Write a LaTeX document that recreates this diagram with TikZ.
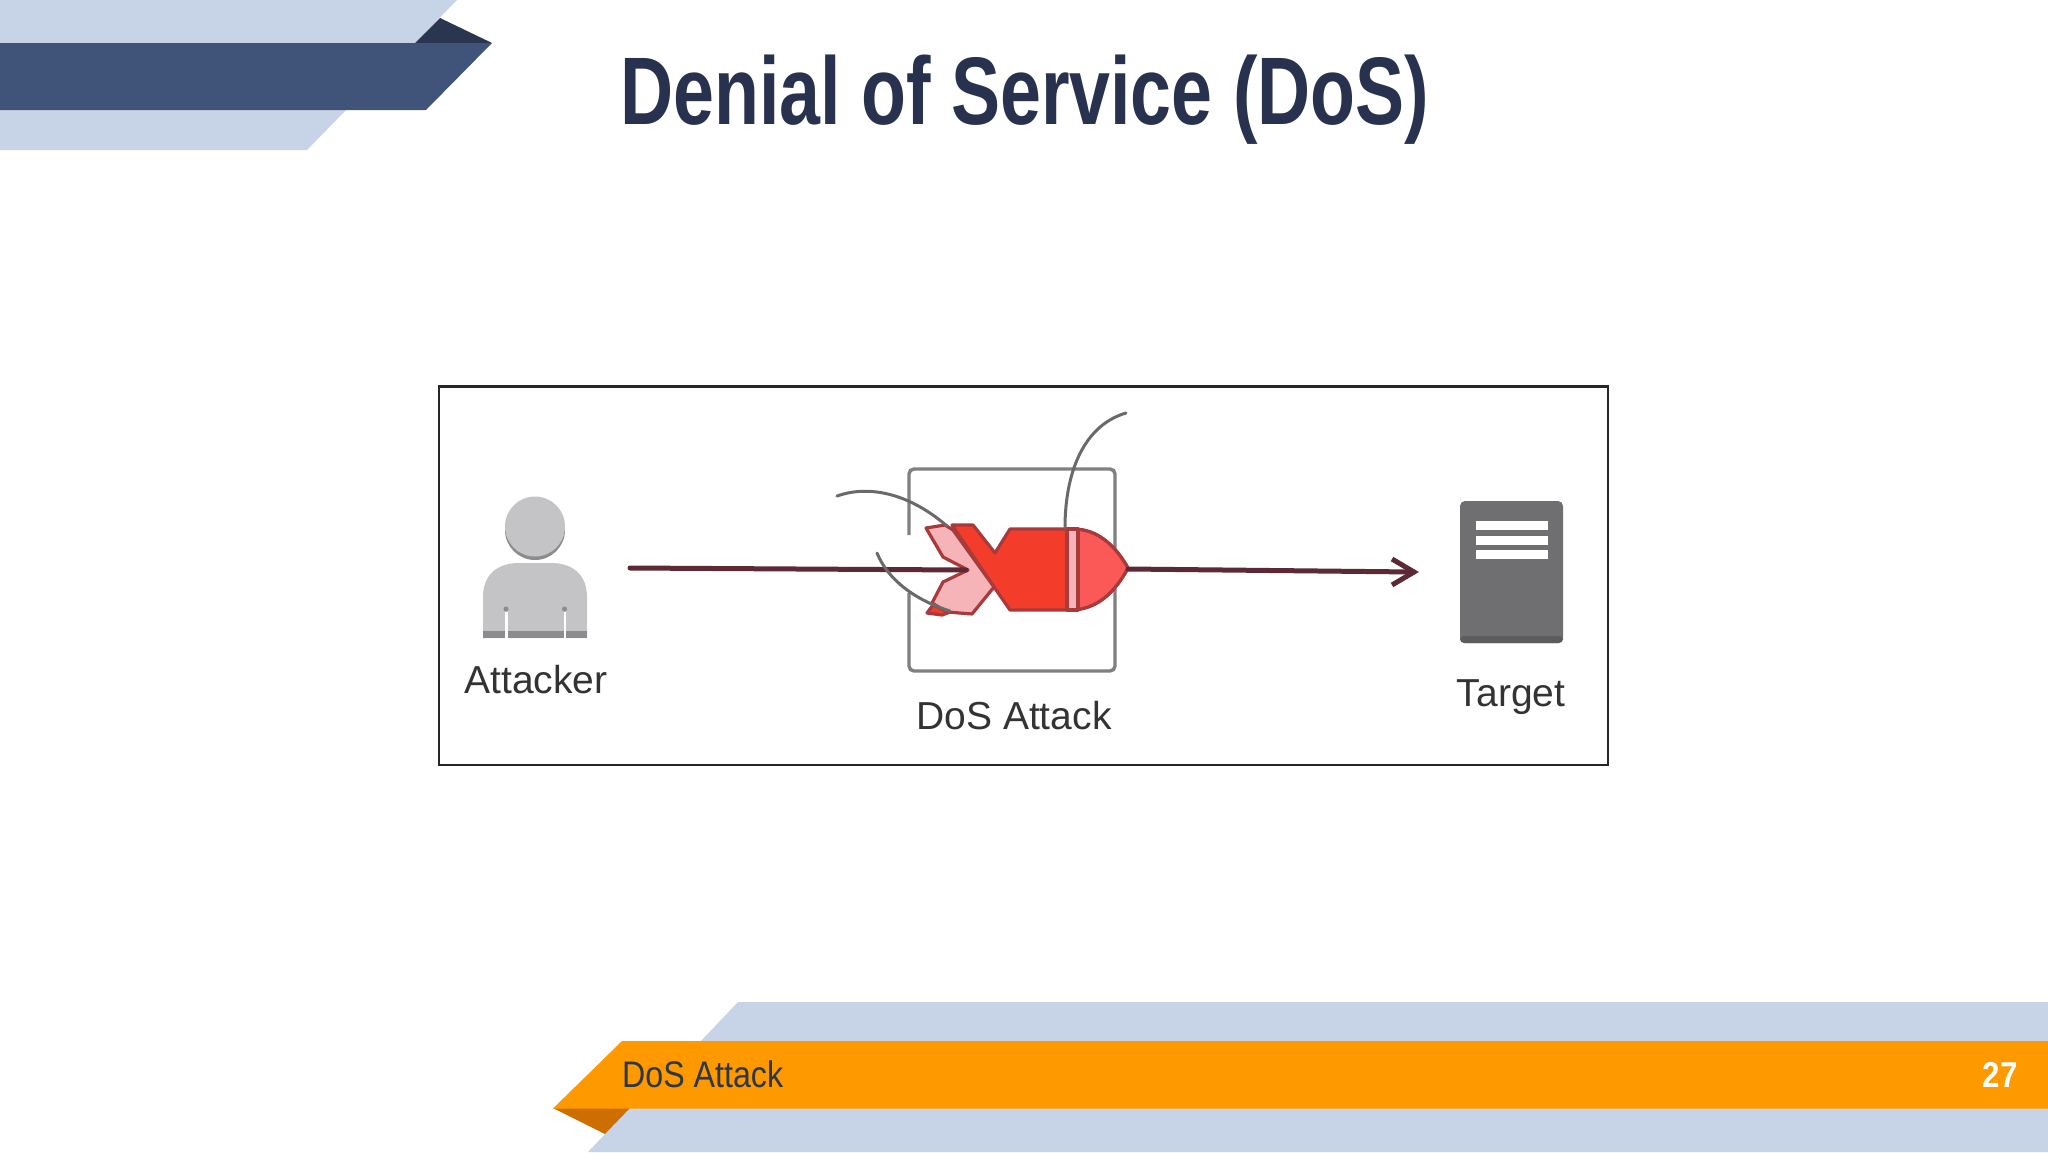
\documentclass[tikz,border=0pt]{standalone}
\usepackage{fontspec}
\setmainfont{Liberation Sans}
\newfontfamily\condB{Liberation Sans}[FakeStretch=0.766]
\newfontfamily\condR{Liberation Sans}[FakeStretch=0.87]
\usetikzlibrary{arrows.meta}
\definecolor{lightband}{HTML}{C7D3E6}
\definecolor{navy}{HTML}{405378}
\definecolor{darknavy}{HTML}{2A3550}
\definecolor{orangeband}{HTML}{FF9900}
\definecolor{darkorange}{HTML}{CC6E00}
\definecolor{titlecol}{HTML}{28324E}
\definecolor{footcol}{HTML}{2D3748}
\definecolor{labelcol}{HTML}{333333}
\definecolor{boxgrey}{HTML}{808080}
\definecolor{wire}{HTML}{6A6A6A}
\definecolor{bombedge}{HTML}{A93A3C}
\definecolor{bombred}{HTML}{F43C2B}
\definecolor{bombnose}{HTML}{FB5858}
\definecolor{bombpale}{HTML}{F6B3B8}
\definecolor{maroon}{HTML}{5C2A36}
\definecolor{personlight}{HTML}{C4C4C6}
\definecolor{persondark}{HTML}{8C8C8E}
\definecolor{servergrey}{HTML}{6F6F71}
\definecolor{serverdark}{HTML}{5C5C5E}
\tikzset{
  band/.style={fill=lightband,draw=none},
  diagramlabel/.style={font=\fontsize{39}{39}\selectfont,text=labelcol,inner sep=0pt},
  flow/.style={draw=maroon,line width=5pt,line cap=round},
  wirecurve/.style={draw=wire,line width=3pt,line cap=round},
  bombpart/.style={draw=bombedge,line width=3.2pt,line join=round},
}
\begin{document}
\begin{tikzpicture}[x=1pt,y=-1pt]
\useasboundingbox (0,0) rectangle (2048,1152);
\fill[white] (0,0) rectangle (2048,1152);
% header ribbon
\fill[band] (0,0) -- (457,0) -- (414,44) -- (0,44) -- cycle;
\fill[darknavy] (415,43) -- (440,18) -- (492,43) -- cycle;
\fill[band] (0,110) -- (346,110) -- (307,150) -- (0,150) -- cycle;
\fill[navy] (0,43) -- (492,43) -- (426,110) -- (0,110) -- cycle;
\node[anchor=base west,inner sep=0pt,text=titlecol,font=\fontsize{96}{96}\selectfont\condB\bfseries] (title) at (620,124) {Denial of Service (DoS)};
% footer ribbon
\fill[band] (738,1002) -- (2048,1002) -- (2048,1042) -- (700,1042) -- cycle;
\fill[band] (630,1108) -- (2048,1108) -- (2048,1152) -- (588,1152) -- cycle;
\fill[darkorange] (553,1108) -- (630,1108) -- (605,1134) -- cycle;
\fill[orangeband] (622,1041) -- (2048,1041) -- (2048,1108.5) -- (553,1108.5) -- cycle;
\node[anchor=base west,inner sep=0pt,text=footcol,font=\fontsize{37}{37}\selectfont\condR] (foot) at (622,1087) {DoS Attack};
\node[anchor=base east,inner sep=0pt,text=white,font=\fontsize{36}{36}\selectfont\condR\bfseries] (page) at (2018,1087) {27};
% frame
\draw[draw=black!85,line width=2.4pt] (439,386.5) rectangle (1608,765);
% attack box with gap on its left side
\draw[boxgrey,line width=3.4pt,rounded corners=5pt] (909,535) -- (909,469) -- (1115,469) -- (1115,671) -- (909,671) -- (909,593);
% attacker
\node[circle,fill=persondark,minimum size=60pt,inner sep=0pt] (headshade) at (535,530) {};
\node[circle,fill=personlight,minimum size=60pt,inner sep=0pt] (head) at (535,526.5) {};
\fill[personlight] (483,638) -- (483,597) .. controls (483,575) and (497,563) .. (519,563) -- (551,563) .. controls (573,563) and (587,575) .. (587,597) -- (587,638) -- cycle;
\fill[persondark] (483,631) rectangle (587,638);
\fill[white] (505,612) rectangle (507.5,638);
\fill[white] (563.5,612) rectangle (566,638);
\fill[persondark] (506,609) circle (2.5);
\fill[persondark] (564.5,609) circle (2.5);
\coordinate (attacker) at (630,568);
\node[diagramlabel] (attackerlabel) at (536,680) {Attacker};
% target server
\fill[servergrey,rounded corners=5pt] (1460,501) rectangle (1563,643);
\fill[serverdark,rounded corners=4pt] (1460,636) rectangle (1563,643);
\fill[white] (1476,521) rectangle (1548,530);
\fill[white] (1476,536) rectangle (1548,545);
\fill[white] (1476,550) rectangle (1548,559);
\coordinate (target) at (1414,572);
\node[diagramlabel] (targetlabel) at (1511,697) {Target};
\node[diagramlabel] (doslabel) at (1014,716) {DoS Attack};
% bomb
\coordinate (bombtail) at (966,570);
\coordinate (bombtip) at (1128,569);
\path[bombpart,fill=bombred] (927,613) -- (933,605) -- (950,612) -- (942,615) -- cycle;
\path[bombpart,fill=bombred] (952,525) -- (973,525) -- (995,553) -- (1010,529) -- (1073,529) .. controls (1097,529) and (1115,545) .. (1128,568) .. controls (1115,592) and (1097,610) .. (1070,610) -- (1010,610) -- (994,587) -- cycle;
\path[draw=none,fill=bombnose] (1078,530) .. controls (1098,531) and (1115,545) .. (1127,568) .. controls (1115,592) and (1098,608) .. (1078,609) -- cycle;
\path[bombpart,fill=bombpale] (1067,529) -- (1078,529) -- (1078,610) -- (1067,610) -- cycle;
\path[bombpart] (1073,529) .. controls (1097,529) and (1115,545) .. (1128,568) .. controls (1115,592) and (1097,610) .. (1070,610);
\path[bombpart,fill=bombpale] (926,528) -- (945,525) -- (953,530) -- (994,587) -- (972,614) -- (947,612) -- (932,603) -- (943,582) -- (968,570) -- (943,557) -- cycle;
% flow arrows
\draw[flow] (attacker) -- (bombtail);
\draw[flow] (bombtip) -- (target);
\draw[maroon,line width=5pt,line join=miter] (1392,559) -- (target) -- (1392,585);
% wires
\draw[wirecurve] (837,496) .. controls (865,486) and (905,490) .. (947,526);
\draw[wirecurve] (877,553) .. controls (888,580) and (915,600) .. (950,611);
\draw[wirecurve] (1126,413) .. controls (1085,425) and (1065,470) .. (1065,528);
\end{tikzpicture}
\end{document}
